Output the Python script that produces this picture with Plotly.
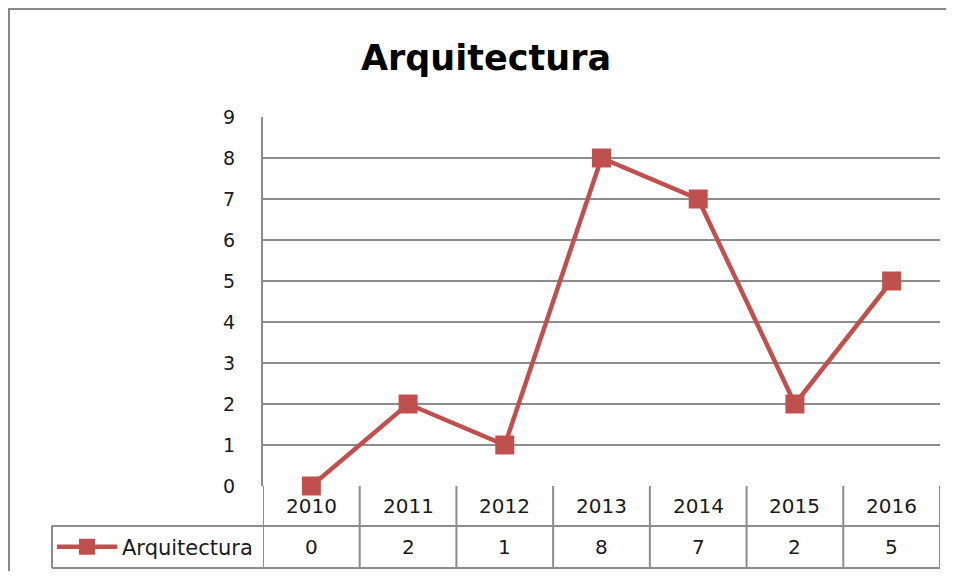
import plotly.graph_objects as go

# data
years = ["2010", "2011", "2012", "2013", "2014", "2015", "2016"]
arquitectura = [0, 2, 1, 8, 7, 2, 5]
serie_name = "Arquitectura"

OFF = 8  # page body margin the browser adds around the plot div
W, H = 954 - 2 * OFF, 579 - 2 * OFF  # keep the page inside the window
red = "#C0504D"
grey = "#8C8C8C"
txt = "#1a1a1a"
font = "'DejaVu Sans', Verdana, sans-serif"


def py(pix):
    # screen pixel row -> paper fraction
    return 1 - (pix - OFF) / H


def px_(pix):
    return (pix - OFF) / W


fig = go.Figure()
fig.add_trace(go.Scatter(
    x=years, y=arquitectura, name=serie_name,
    mode="lines+markers", cliponaxis=False,
    line=dict(color=red, width=4.5),
    marker=dict(symbol="square", size=19, color=red),
))

# data table under the plot: years row + values row
row_top, row_mid, row_bot = 486, 526, 568
line = dict(color=grey, width=2)
shapes = [
    dict(type="line", xref="paper", yref="paper", x0=px_(52), x1=px_(940),
         y0=py(row_mid), y1=py(row_mid), line=line),
    dict(type="line", xref="paper", yref="paper", x0=px_(52), x1=px_(940),
         y0=py(row_bot), y1=py(row_bot), line=line),
    dict(type="line", xref="paper", yref="paper", x0=px_(52), x1=px_(52),
         y0=py(row_mid), y1=py(row_bot), line=line),
]
for i in range(len(years) + 1):
    shapes.append(dict(type="line", xref="x", yref="paper", x0=i - 0.5, x1=i - 0.5,
                       y0=py(row_top), y1=py(row_bot), line=line, layer="below"))
# outer chart border (top edge kept just inside the page)
shapes.append(dict(type="rect", xref="paper", yref="paper", x0=px_(9), x1=px_(975),
                   y0=py(9), y1=py(600), line=dict(color="#888888", width=2)))

annotations = []
for i, (yr, v) in enumerate(zip(years, arquitectura)):
    annotations.append(dict(x=i, xref="x", y=py((row_top + row_mid) / 2), yref="paper",
                            yanchor="middle", text=yr, showarrow=False,
                            font=dict(size=20, color=txt)))
    annotations.append(dict(x=i, xref="x", y=py((row_mid + row_bot) / 2), yref="paper",
                            yanchor="middle", text=str(v), showarrow=False,
                            font=dict(size=20, color=txt)))

fig.update_layout(
    width=W, height=H,
    margin=dict(l=0, r=0, t=0, b=0, autoexpand=False),
    paper_bgcolor="white", plot_bgcolor="white",
    font=dict(family=font, color=txt),
    title=dict(text="<b>Arquitectura</b>", x=px_(486), xanchor="center",
               y=py(58), yanchor="middle", font=dict(size=35, color="black")),
    xaxis=dict(domain=[px_(263), px_(940)], type="category", range=[-0.5, 6.5],
               showticklabels=False, showgrid=False, showline=False, ticks="",
               zeroline=False),
    yaxis=dict(domain=[py(486), py(117)], range=[0, 9], dtick=1,
               showgrid=True, gridcolor=grey, gridwidth=2,
               showline=True, linecolor=grey, linewidth=2,
               zeroline=False, ticks="", ticklabelstandoff=22, automargin=False,
               tickfont=dict(size=19, color=txt)),
    showlegend=True,
    legend=dict(x=px_(52), xanchor="left", y=py((row_mid + row_bot) / 2), yanchor="middle",
                bgcolor="rgba(0,0,0,0)", font=dict(size=21, color=txt), itemwidth=60),
    shapes=shapes,
    annotations=annotations,
)

fig.write_html("out.html")
